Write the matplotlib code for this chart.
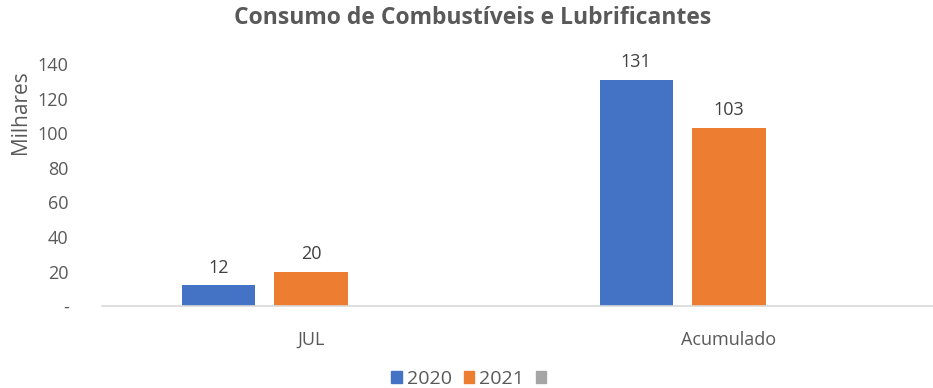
import numpy as np
import matplotlib.pyplot as plt
from matplotlib.patches import Patch
from matplotlib.ticker import FuncFormatter

plt.rcParams['font.family'] = ['Open Sans', 'DejaVu Sans']

categories = ['JUL', 'Acumulado']
series_names = ['2020', '2021', ' ']
values_2020 = [12, 131]
values_2021 = [20, 103]
colors = ['#4472C4', '#ED7D31', '#A5A5A5']
text_color = '#595959'

fig = plt.figure(figsize=(9.33, 3.88), dpi=100)
ax = fig.add_axes([0.1093, 0.211, 0.896, 0.624])

x = np.arange(len(categories))
width = 0.175
step = 0.222

for vals, off, col in [(values_2020, -step, colors[0]), (values_2021, 0, colors[1])]:
    bars = ax.bar(x + off, vals, width, color=col)
    for b, v in zip(bars, vals):
        ax.text(b.get_x() + b.get_width() / 2, v + 5, f'{v}', ha='center', va='bottom',
                fontsize=13, color='#404040', clip_on=False)

ax.set_xlim(-0.5, 1.5)
ax.set_ylim(0, 140)
ax.set_yticks(range(0, 141, 20))
ax.yaxis.set_major_formatter(FuncFormatter(lambda v, p: '-' if v == 0 else f'{v:.0f}'))
ax.set_xticks(x)
ax.set_xticklabels(categories)
ax.tick_params(length=0, labelsize=13, labelcolor=text_color)
ax.tick_params(axis='x', pad=18)
ax.tick_params(axis='y', pad=24)
for lbl in ax.get_yticklabels():
    lbl.set_horizontalalignment('right')

for s in ['top', 'right', 'left']:
    ax.spines[s].set_visible(False)
ax.spines['bottom'].set_color('#D9D9D9')
ax.spines['bottom'].set_linewidth(1.2)

ax.set_ylabel('Milhares', fontsize=15, color=text_color)
ax.yaxis.set_label_coords(-0.085, 0.80)

fig.suptitle('Consumo de Combustíveis e Lubrificantes', x=0.507, y=0.985,
             fontsize=16.5, fontweight='bold', color=text_color)

handles = [Patch(color=c) for c in colors]
fig.legend(handles, series_names, loc='lower center', bbox_to_anchor=(0.508, -0.045),
           ncol=3, frameon=False, fontsize=14, handlelength=0.55, handleheight=0.55,
           handletextpad=0.25, columnspacing=0.6, labelcolor=text_color)

fig.savefig('out.png', dpi=100)
